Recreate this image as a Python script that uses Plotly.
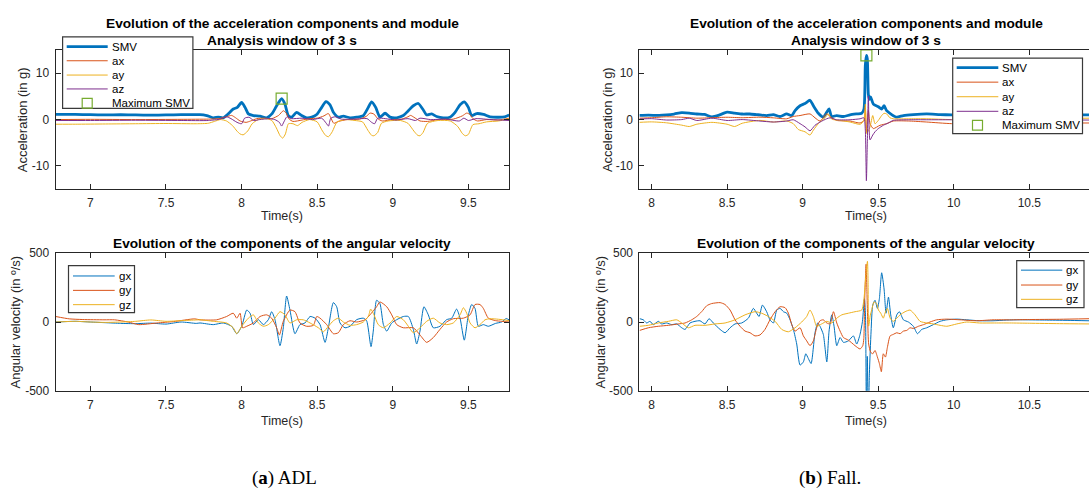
import plotly.graph_objects as go

# ---------------- DATA ----------------
# (a) ADL - acceleration (g)
adl_smv_t = [6.77, 6.9, 7.0, 7.1, 7.2, 7.3, 7.4, 7.5, 7.6, 7.7, 7.725, 7.77, 7.813, 7.846, 7.879, 7.912, 7.945, 7.972, 8.0, 8.023, 8.045, 8.078, 8.122, 8.166, 8.2, 8.232, 8.265, 8.287, 8.309, 8.331, 8.364, 8.397, 8.43, 8.464, 8.497, 8.53, 8.558, 8.585, 8.607, 8.64, 8.673, 8.717, 8.761, 8.805, 8.838, 8.86, 8.887, 8.915, 8.949, 8.982, 9.026, 9.07, 9.103, 9.136, 9.169, 9.198, 9.224, 9.257, 9.29, 9.334, 9.378, 9.412, 9.445, 9.473, 9.5, 9.522, 9.555, 9.6, 9.643, 9.7, 9.74, 9.77]
adl_smv = [1.1, 1.1, 1.05, 1.0, 1.05, 1.0, 0.95, 1.0, 1.05, 1.05, 1.08, 0.87, 0.38, 0.52, 0.38, 1.22, 2.28, 2.63, 3.68, 2.63, 1.22, 0.87, 0.73, 0.38, 1.22, 2.98, 4.52, 3.33, 0.87, 0.52, 1.57, 0.87, 0.38, 0.52, 1.08, 2.63, 3.89, 3.19, 1.57, 0.52, 0.73, 0.38, 0.52, 0.87, 2.63, 3.82, 2.63, 0.52, 1.36, 0.52, 0.38, 0.87, 1.92, 2.98, 3.47, 2.28, 1.01, 1.22, 0.66, 0.38, 0.52, 1.57, 3.19, 3.82, 2.63, 0.87, 1.3, 1.1, 0.6, 0.5, 0.6, 1.0]

adl_ax_t = [6.77, 7.0, 7.3, 7.6, 7.78, 7.85, 7.9, 7.934, 7.96, 7.99, 8.03, 8.06, 8.1, 8.15, 8.2, 8.245, 8.276, 8.295, 8.315, 8.34, 8.4, 8.45, 8.5, 8.545, 8.574, 8.59, 8.61, 8.64, 8.7, 8.78, 8.825, 8.85, 8.875, 8.9, 8.93, 9.0, 9.06, 9.1, 9.118, 9.14, 9.18, 9.23, 9.3, 9.4, 9.46, 9.489, 9.51, 9.53, 9.56, 9.62, 9.7, 9.77]
adl_ax = [0.0, 0.05, 0.0, 0.05, 0.1, 0.2, 0.6, 0.9, 0.4, -0.3, -0.6, -0.3, 0.2, 0.3, 0.2, 0.9, 1.9, 1.4, 0.1, -0.4, -0.1, 0.2, 0.3, 0.8, 1.3, 0.4, -0.8, -0.4, 0.0, 0.1, 0.7, 1.4, 1.2, 0.2, -0.3, 0.0, 0.1, 0.6, 0.9, 0.5, -0.3, -0.4, 0.0, 0.1, 0.8, 1.4, 1.1, 0.2, -0.3, 0.0, -0.1, 0.3]

adl_ay_t = [6.77, 6.9, 7.1, 7.3, 7.5, 7.7, 7.78, 7.82, 7.86, 7.9, 7.94, 7.97, 7.99, 8.01, 8.04, 8.07, 8.11, 8.16, 8.2, 8.23, 8.255, 8.272, 8.29, 8.31, 8.34, 8.37, 8.4, 8.45, 8.5, 8.53, 8.555, 8.575, 8.6, 8.63, 8.68, 8.75, 8.8, 8.835, 8.86, 8.875, 8.9, 8.925, 8.97, 9.05, 9.1, 9.14, 9.165, 9.18, 9.2, 9.23, 9.3, 9.38, 9.43, 9.46, 9.48, 9.5, 9.53, 9.57, 9.62, 9.7, 9.77]
adl_ay = [-1.0, -1.0, -0.95, -0.9, -0.85, -0.9, -0.8, -0.4, 0.0, -0.3, -1.3, -2.5, -3.1, -3.3, -2.5, -0.9, 0.0, 0.2, -0.2, -1.8, -3.5, -4.0, -3.1, -0.9, -0.9, -1.3, -0.6, 0.0, -0.5, -2.2, -3.4, -3.7, -2.6, -0.6, 0.0, -0.2, -0.5, -2.3, -3.4, -3.5, -2.8, -0.8, -0.3, -0.2, -0.8, -2.5, -3.4, -3.5, -2.8, -0.8, -0.2, -0.3, -1.5, -3.0, -3.5, -3.2, -1.1, -0.9, -0.5, -0.3, 0.2]

adl_az_t = [6.77, 7.0, 7.3, 7.6, 7.78, 7.86, 7.9, 7.93, 7.97, 8.0, 8.02, 8.05, 8.08, 8.12, 8.18, 8.22, 8.25, 8.265, 8.28, 8.3, 8.33, 8.4, 8.47, 8.53, 8.56, 8.575, 8.59, 8.62, 8.66, 8.75, 8.83, 8.86, 8.88, 8.9, 8.95, 9.02, 9.1, 9.15, 9.18, 9.25, 9.35, 9.44, 9.47, 9.5, 9.55, 9.65, 9.77]
adl_az = [-0.2, -0.2, -0.15, -0.2, -0.2, 0.1, 0.6, 0.2, -0.6, -0.9, 0.3, 0.5, -0.2, 0.0, 0.2, 0.0, -0.6, -1.4, -0.5, 0.6, 0.2, 0.3, 0.0, 0.3, -0.8, -1.4, 0.3, 0.6, 0.1, 0.1, 0.2, -0.6, -0.9, 0.3, 0.2, -0.1, 0.2, -0.2, 0.3, 0.0, 0.1, -0.3, 0.3, -0.2, 0.2, 0.0, -0.2]

adl_max_t = [8.265]
adl_max = [4.52]

# (b) Fall - acceleration (g)
fall_smv_t = [7.92, 7.98, 8.05, 8.1, 8.15, 8.2, 8.25, 8.3, 8.35, 8.4, 8.45, 8.5, 8.55, 8.6, 8.65, 8.7, 8.718, 8.762, 8.806, 8.85, 8.894, 8.928, 8.95, 8.983, 9.016, 9.049, 9.071, 9.104, 9.137, 9.159, 9.175, 9.192, 9.225, 9.27, 9.314, 9.358, 9.391, 9.406, 9.415, 9.422, 9.428, 9.435, 9.442, 9.45, 9.468, 9.501, 9.523, 9.539, 9.556, 9.589, 9.622, 9.667, 9.733, 9.821, 9.909, 9.986, 10.1, 10.3, 10.5, 10.7, 10.895]
fall_smv = [0.9, 0.95, 0.9, 1.0, 1.2, 1.5, 1.4, 1.2, 1.1, 0.6, 1.0, 1.6, 1.4, 1.2, 1.2, 1.05, 1.01, 0.87, 1.08, 0.66, 1.22, 0.87, 1.92, 2.98, 3.47, 4.17, 2.98, 1.36, 0.52, 1.57, 2.28, 0.66, 0.87, 0.66, 1.01, 1.22, 1.36, 2.28, 11.75, 13.85, 13.15, 5.43, 4.38, 4.87, 3.33, 2.77, 2.28, 2.98, 1.92, 1.08, 0.52, 0.87, 1.08, 1.22, 1.08, 1.01, 1.0, 1.0, 1.0, 1.0, 1.0]

fall_ax_t = [7.92, 8.0, 8.1, 8.2, 8.3, 8.4, 8.5, 8.6, 8.718, 8.806, 8.894, 8.938, 8.983, 9.049, 9.082, 9.115, 9.159, 9.182, 9.225, 9.314, 9.38, 9.406, 9.415, 9.422, 9.435, 9.446, 9.468, 9.512, 9.556, 9.6, 9.71, 9.821, 9.986, 10.2, 10.5, 10.895]
fall_ax = [0.3, 0.4, 0.6, 0.5, 0.3, 0.4, 0.5, 0.4, 0.52, 0.38, 0.17, 0.66, 0.87, 1.22, 0.38, -0.32, 1.22, 0.66, -0.18, -0.32, -0.74, -0.2, 2.63, -2.64, 1.92, -0.88, -1.94, -1.23, -0.88, -0.32, -0.32, -0.53, -0.88, -0.8, -0.75, -0.74]

fall_ay_t = [7.92, 8.0, 8.1, 8.2, 8.25, 8.3, 8.4, 8.5, 8.55, 8.6, 8.718, 8.806, 8.894, 8.938, 8.972, 9.016, 9.049, 9.071, 9.104, 9.148, 9.17, 9.192, 9.248, 9.314, 9.38, 9.406, 9.415, 9.424, 9.446, 9.464, 9.479, 9.501, 9.523, 9.539, 9.556, 9.578, 9.6, 9.71, 9.821, 9.986, 10.3, 10.6, 10.895]
fall_ay = [-0.6, -0.5, -0.7, -1.2, -1.5, -1.0, -0.6, -1.0, -1.5, -0.8, -0.18, -0.53, -0.3, -0.88, -2.15, -2.64, -3.34, -2.29, -0.88, 0.38, 1.22, 0.1, -0.18, -0.53, -1.02, -0.2, 3.33, -2.99, -1.58, 0.87, -0.9, -0.18, 0.87, 1.36, 1.22, 0.38, 0.17, 0.17, 0.17, 0.0, 0.1, 0.2, 0.3]

fall_az_t = [7.92, 8.0, 8.1, 8.2, 8.25, 8.3, 8.4, 8.5, 8.6, 8.718, 8.806, 8.894, 8.938, 8.983, 9.016, 9.049, 9.082, 9.115, 9.159, 9.182, 9.225, 9.314, 9.38, 9.406, 9.415, 9.422, 9.428, 9.435, 9.446, 9.464, 9.479, 9.501, 9.534, 9.567, 9.6, 9.71, 9.821, 9.986, 10.4, 10.895]
fall_az = [0.1, 0.2, -0.1, 0.0, 0.3, -0.2, 0.3, -0.2, 0.0, -0.32, -0.53, -0.32, -0.04, -0.88, -1.58, -2.43, -1.23, -0.53, 0.17, 0.38, -0.04, -0.04, 0.17, 0.38, -2.29, -13.2, -5.1, 5.08, -4.4, -3.34, -2.64, -1.94, -1.23, -0.74, -0.18, -0.04, -0.04, -0.04, -0.05, -0.1]

fall_max_t = [9.422]
fall_max = [13.85]

# (a) ADL - angular velocity (deg/s)
adl_gx_t = [6.77, 6.9, 7.0, 7.1, 7.2, 7.3, 7.4, 7.5, 7.6, 7.7, 7.725, 7.813, 7.879, 7.934, 7.968, 8.001, 8.034, 8.056, 8.078, 8.111, 8.144, 8.177, 8.199, 8.221, 8.254, 8.276, 8.298, 8.32, 8.353, 8.386, 8.419, 8.453, 8.486, 8.519, 8.552, 8.574, 8.607, 8.629, 8.651, 8.684, 8.717, 8.761, 8.805, 8.827, 8.856, 8.871, 8.893, 8.915, 8.938, 8.96, 8.993, 9.026, 9.07, 9.103, 9.136, 9.158, 9.18, 9.206, 9.235, 9.268, 9.312, 9.356, 9.39, 9.422, 9.445, 9.473, 9.5, 9.522, 9.544, 9.566, 9.599, 9.632, 9.68, 9.72, 9.75, 9.77]
adl_gx = [0, 5, 0, -5, -10, -12, -8, -15, 0, -10, -7, -19, -7, -31, -85, -31, 87, 64, -19, 17, -19, 17, 75, 17, -172, -42, 189, 87, -85, -19, -7, 40, 28, -19, -148, -42, 141, 111, -7, -42, -31, 17, 28, 9, -179, -66, 158, 134, -19, -66, -7, 17, 40, 40, -54, -160, -66, 111, 52, -42, -31, 17, 28, 94, 28, -132, 52, 127, 99, -31, -19, -31, -10, 0, 25, 15]

adl_gy_t = [6.77, 6.86, 6.95, 7.09, 7.16, 7.25, 7.32, 7.44, 7.55, 7.69, 7.725, 7.835, 7.901, 7.945, 7.968, 7.99, 8.007, 8.034, 8.078, 8.122, 8.166, 8.199, 8.232, 8.25, 8.276, 8.32, 8.353, 8.386, 8.43, 8.475, 8.497, 8.519, 8.563, 8.607, 8.64, 8.673, 8.717, 8.761, 8.816, 8.849, 8.893, 8.915, 8.96, 8.993, 9.026, 9.07, 9.136, 9.18, 9.224, 9.268, 9.312, 9.356, 9.4, 9.467, 9.511, 9.544, 9.577, 9.599, 9.632, 9.68, 9.72, 9.77]
adl_gy = [40, 23, 18, 16, 16, 0, -19, -7, 3, 23, 16, 16, 40, 64, 28, 64, -42, -31, -7, 40, 52, 28, -42, -94, 5, 87, 75, -7, -31, -24, 40, 28, -19, -85, -78, -19, 9, 0, 16, 52, 111, 146, 111, 52, -19, -42, -42, -94, -148, -113, -54, 0, 24, 28, 52, 127, 127, 99, 28, 10, 5, 0]

adl_gz_t = [6.77, 6.9, 7.0, 7.1, 7.2, 7.3, 7.4, 7.5, 7.6, 7.7, 7.725, 7.813, 7.901, 7.945, 7.968, 8.001, 8.045, 8.078, 8.111, 8.144, 8.177, 8.221, 8.254, 8.287, 8.32, 8.364, 8.408, 8.453, 8.508, 8.541, 8.574, 8.607, 8.64, 8.673, 8.717, 8.761, 8.805, 8.838, 8.854, 8.876, 8.904, 8.938, 8.982, 9.026, 9.07, 9.103, 9.136, 9.18, 9.224, 9.268, 9.312, 9.356, 9.4, 9.445, 9.467, 9.489, 9.511, 9.544, 9.577, 9.61, 9.643, 9.7, 9.77]
adl_gz = [0, 5, 0, -3, 0, 5, 15, 5, 10, 15, 16, 5, -7, -42, -85, -31, 28, 52, -7, -31, -19, 28, 75, 52, -7, 16, 16, -7, -42, -71, -31, 9, 28, 0, -24, -19, 0, 40, 94, 52, -19, -42, -7, 40, 16, -31, -78, -42, 5, 28, -7, -19, -7, 52, 104, 64, -7, -42, -19, 16, 24, 20, 10]

# (b) Fall - angular velocity (deg/s)
fall_gx_t = [7.922, 7.946, 7.968, 7.99, 8.012, 8.045, 8.067, 8.1, 8.134, 8.167, 8.2, 8.222, 8.255, 8.288, 8.321, 8.354, 8.381, 8.409, 8.454, 8.487, 8.52, 8.553, 8.597, 8.641, 8.674, 8.696, 8.712, 8.734, 8.762, 8.784, 8.807, 8.829, 8.851, 8.873, 8.895, 8.917, 8.939, 8.961, 8.983, 9.005, 9.021, 9.038, 9.056, 9.082, 9.1, 9.115, 9.137, 9.16, 9.175, 9.193, 9.208, 9.226, 9.248, 9.27, 9.303, 9.336, 9.358, 9.38, 9.396, 9.409, 9.416, 9.422, 9.428, 9.435, 9.442, 9.453, 9.464, 9.479, 9.495, 9.508, 9.523, 9.539, 9.552, 9.568, 9.583, 9.6, 9.623, 9.64, 9.667, 9.7, 9.733, 9.76, 9.788, 9.821, 9.865, 9.91, 9.954, 10.02, 10.086, 10.17, 10.26, 10.35, 10.44, 10.6, 10.75, 10.895]
fall_gx = [24, 16, -7, 5, -19, 5, -14, -7, -19, -14, -42, -54, -7, 5, 9, -14, 24, -7, -54, -78, -42, -14, -7, 28, 99, 64, 40, 123, 75, 16, -7, 87, 99, 75, 64, 16, -54, -160, -313, -290, -231, -266, -302, -78, -7, -31, -90, -290, -66, 52, -31, -172, -113, -148, -137, -101, -160, -90, 5, 170, 52, -720, -250, -700, -372, -66, 123, 158, 99, 170, 358, 240, 64, 181, 52, -42, 52, 75, 16, 0, -31, -85, -54, -42, -19, 5, 16, 21, 16, 9, 9, 14, 16, 14, 12, 9]

fall_gy_t = [7.922, 7.979, 8.045, 8.112, 8.178, 8.222, 8.266, 8.299, 8.332, 8.365, 8.398, 8.454, 8.487, 8.52, 8.553, 8.586, 8.619, 8.652, 8.685, 8.718, 8.751, 8.784, 8.818, 8.851, 8.884, 8.906, 8.928, 8.95, 8.983, 9.005, 9.027, 9.049, 9.071, 9.093, 9.115, 9.137, 9.16, 9.182, 9.204, 9.226, 9.248, 9.27, 9.303, 9.347, 9.38, 9.398, 9.405, 9.411, 9.42, 9.426, 9.431, 9.437, 9.45, 9.464, 9.479, 9.495, 9.508, 9.521, 9.534, 9.548, 9.561, 9.579, 9.6, 9.623, 9.645, 9.667, 9.689, 9.711, 9.733, 9.766, 9.8, 9.843, 9.887, 9.954, 10.042, 10.15, 10.26, 10.37, 10.5, 10.7, 10.895]
fall_gy = [-61, -42, -31, -24, -14, -7, 16, 40, 75, 118, 134, 141, 127, 87, 16, -31, -66, -78, -101, -94, -54, 16, 75, 111, 104, 64, -19, -66, -42, -101, -137, -172, -137, -42, 9, 16, -7, -14, 75, -7, -66, -113, -132, -172, -196, -172, -120, 170, 420, 200, 0, -160, -219, -231, -207, -255, -302, -361, -231, -255, -184, -101, -90, -78, -85, -66, -61, -42, -47, -31, -19, 0, 16, 21, 16, 9, 16, 16, 18, 20, 24]

fall_gz_t = [7.922, 7.979, 8.045, 8.112, 8.167, 8.2, 8.244, 8.288, 8.354, 8.42, 8.487, 8.553, 8.619, 8.685, 8.729, 8.773, 8.818, 8.862, 8.906, 8.95, 8.994, 9.027, 9.049, 9.071, 9.093, 9.126, 9.16, 9.193, 9.226, 9.259, 9.303, 9.347, 9.391, 9.406, 9.42, 9.429, 9.433, 9.437, 9.448, 9.457, 9.473, 9.49, 9.502, 9.517, 9.534, 9.545, 9.561, 9.579, 9.6, 9.623, 9.645, 9.678, 9.711, 9.744, 9.777, 9.821, 9.865, 9.91, 9.954, 10.02, 10.086, 10.17, 10.26, 10.37, 10.5, 10.7, 10.895]
fall_gz = [-31, -24, -7, 5, 16, -7, -42, -24, -24, -14, -7, 16, 52, 75, 64, 40, 5, -54, -71, -42, 0, 40, 87, 40, -31, -14, 5, -7, 28, 52, 64, 75, 87, 170, 360, 441, 300, -30, 50, 87, 146, 134, 87, 64, 28, 64, 99, 28, 5, 28, 52, 75, 87, 52, 5, -7, -14, -24, -31, -14, 0, -7, -7, -7, -9, -12, -14]

# tick labels
adl_xticks = [7, 7.5, 8, 8.5, 9, 9.5]
fall_xticks = [8, 8.5, 9, 9.5, 10, 10.5]
acc_yticks = [-10, 0, 10]
acc_yticklabels = ["-10", "0", "10"]
gyr_yticks = [-500, 0, 500]
gyr_yticklabels = ["-500", "0", "500"]

# ---------------- STYLE ----------------
W, H = 1089, 502
C_BLUE, C_ORANGE, C_YELLOW, C_PURPLE, C_GREEN = "#0072BD", "#D95319", "#EDB120", "#7E2F8E", "#77AC30"
AXC = "#262626"
SANS = "Liberation Sans, Arial, Helvetica, sans-serif"


def X(px):
    return px / W


def Y(py):
    return 1 - py / H


fig = go.Figure()


def line_trace(t, v, color, width, ax, name):
    fig.add_trace(go.Scatter(x=t, y=v, mode="lines", name=name,
                             line=dict(color=color, width=width, shape="spline", smoothing=0.6),
                             xaxis="x" + ax, yaxis="y" + ax, showlegend=False, hoverinfo="skip"))


# top-left
line_trace(adl_smv_t, adl_smv, C_BLUE, 2.8, "", "SMV")
line_trace(adl_ax_t, adl_ax, C_ORANGE, 1, "", "ax")
line_trace(adl_ay_t, adl_ay, C_YELLOW, 1, "", "ay")
line_trace(adl_az_t, adl_az, C_PURPLE, 1, "", "az")
fig.add_trace(go.Scatter(x=adl_max_t, y=adl_max, mode="markers", name="Maximum SMV",
                         marker=dict(symbol="square-open", size=11, color=C_GREEN, line=dict(width=1.2)),
                         xaxis="x", yaxis="y", showlegend=False, hoverinfo="skip"))
# top-right
line_trace(fall_smv_t, fall_smv, C_BLUE, 2.8, "2", "SMV")
line_trace(fall_ax_t, fall_ax, C_ORANGE, 1, "2", "ax")
line_trace(fall_ay_t, fall_ay, C_YELLOW, 1, "2", "ay")
line_trace(fall_az_t, fall_az, C_PURPLE, 1, "2", "az")
fig.add_trace(go.Scatter(x=fall_max_t, y=fall_max, mode="markers", name="Maximum SMV",
                         marker=dict(symbol="square-open", size=11, color=C_GREEN, line=dict(width=1.2)),
                         xaxis="x2", yaxis="y2", showlegend=False, hoverinfo="skip"))
# bottom-left
line_trace(adl_gx_t, adl_gx, C_BLUE, 1, "3", "gx")
line_trace(adl_gy_t, adl_gy, C_ORANGE, 1, "3", "gy")
line_trace(adl_gz_t, adl_gz, C_YELLOW, 1, "3", "gz")
# bottom-right
line_trace(fall_gx_t, fall_gx, C_BLUE, 1, "4", "gx")
line_trace(fall_gy_t, fall_gy, C_ORANGE, 1, "4", "gy")
line_trace(fall_gz_t, fall_gz, C_YELLOW, 1, "4", "gz")

LX = [X(55.6), X(509.2)]
RX = [X(639.4), 1.0]
TY = [Y(187.3), Y(44.3)]
BY = [Y(394.8), Y(253.3)]


def xax(domain, rng, ticks, anchor):
    return dict(domain=domain, range=rng, tickvals=ticks, ticktext=[("%g" % v) for v in ticks],
                showline=True, linecolor=AXC, linewidth=1, mirror="allticks",
                ticks="inside", ticklen=5, tickwidth=1, tickcolor=AXC,
                showgrid=False, zeroline=False, anchor=anchor, fixedrange=True,
                tickfont=dict(family=SANS, size=12, color=AXC), ticklabelstandoff=3)


def yax(domain, rng, ticks, labels, anchor, mirror):
    return dict(domain=domain, range=rng, tickvals=ticks, ticktext=labels,
                showline=True, linecolor=AXC, linewidth=1, mirror=mirror,
                ticks="inside", ticklen=5, tickwidth=1, tickcolor=AXC,
                showgrid=False, zeroline=False, anchor=anchor, fixedrange=True,
                tickfont=dict(family=SANS, size=12, color=AXC), ticklabelstandoff=3)


fig.update_layout(
    width=W, height=H, autosize=False,
    margin=dict(l=0, r=0, t=0, b=0),
    paper_bgcolor="white", plot_bgcolor="white",
    showlegend=False, hovermode=False,
    xaxis=xax(LX, [6.77, 9.77], adl_xticks, "y"),
    yaxis=yax(TY, [-15, 15], acc_yticks, acc_yticklabels, "x", "allticks"),
    xaxis2=xax(RX, [7.92, 10.895], fall_xticks, "y2"),
    yaxis2=yax(TY, [-15, 15], acc_yticks, acc_yticklabels, "x2", False),
    xaxis3=xax(LX, [6.77, 9.77], adl_xticks, "y3"),
    yaxis3=yax(BY, [-500, 500], gyr_yticks, gyr_yticklabels, "x3", "allticks"),
    xaxis4=xax(RX, [7.92, 10.895], fall_xticks, "y4"),
    yaxis4=yax(BY, [-500, 500], gyr_yticks, gyr_yticklabels, "x4", False),
)

ann = []
shapes = []


def text(px, py, s, size, bold=False, angle=0, anchor="center", color=AXC, family=SANS):
    ann.append(dict(x=X(px), y=Y(py), xref="paper", yref="paper", text=("<b>%s</b>" % s) if bold else s,
                    showarrow=False, xanchor=anchor, yanchor="middle", textangle=angle,
                    font=dict(family=family, size=size, color=color)))


# titles
for cx in (282.4, 866.0):
    text(cx, 17, "Evolution of the acceleration components and module", 13.7, bold=True, color="#000")
    text(cx, 34, "Analysis window of 3 s", 13.7, bold=True, color="#000")
    text(cx, 243.5, "Evolution of the components of the angular velocity", 13.7, bold=True, color="#000")

# axis labels
text(282.4, 215, "Time(s)", 12.5, color=AXC)
text(866.0, 215, "Time(s)", 12.5, color=AXC)
text(282.4, 426, "Time(s)", 12.5, color=AXC)
text(866.0, 426, "Time(s)", 12.5, color=AXC)
text(22.6, 115.8, "Acceleration (in g)", 13, angle=-90)
text(607.5, 115.8, "Acceleration (in g)", 13, angle=-90)
text(15.5, 324, "Angular velocity (in º/s)", 13, angle=-90)
text(600.5, 324, "Angular velocity (in º/s)", 13, angle=-90)

# captions
ann.append(dict(x=X(284), y=Y(485), xref="paper", yref="paper", text="(<b>a</b>) ADL", showarrow=False,
                xanchor="center", yanchor="middle", font=dict(family="Liberation Serif, serif", size=19, color="#000")))
ann.append(dict(x=X(830), y=Y(485), xref="paper", yref="paper", text="(<b>b</b>) Fall.", showarrow=False,
                xanchor="center", yanchor="middle", font=dict(family="Liberation Serif, serif", size=19, color="#000")))


# manual legends
def legend(box, items, line_x0, line_x1, text_x):
    x0, y0, x1, y1 = box
    shapes.append(dict(type="rect", xref="paper", yref="paper", x0=X(x0), x1=X(x1), y0=Y(y1), y1=Y(y0),
                       fillcolor="white", line=dict(color="#3a3a3a", width=1.2), layer="above"))
    for label, color, width, yy, kind in items:
        if kind == "line":
            shapes.append(dict(type="line", xref="paper", yref="paper", x0=X(line_x0), x1=X(line_x1),
                               y0=Y(yy), y1=Y(yy), line=dict(color=color, width=width), layer="above"))
        else:
            cx = (line_x0 + line_x1) / 2
            shapes.append(dict(type="rect", xref="paper", yref="paper", x0=X(cx - 5), x1=X(cx + 5),
                               y0=Y(yy + 5), y1=Y(yy - 5), line=dict(color=color, width=1.2),
                               fillcolor="rgba(0,0,0,0)", layer="above"))
        text(text_x, yy, label, 11.5, anchor="left", color="#000")


legend((62.6, 30.7, 192.9, 104.3),
       [("SMV", C_BLUE, 2.8, 40.7, "line"), ("ax", C_ORANGE, 1, 55.3, "line"), ("ay", C_YELLOW, 1, 70, "line"),
        ("az", C_PURPLE, 1, 84.3, "line"), ("Maximum SMV", C_GREEN, 1, 99, "square")],
       66.7, 107.7, 109.5)
legend((952.7, 52.5, 1082.5, 130.3),
       [("SMV", C_BLUE, 2.8, 62.3, "line"), ("ax", C_ORANGE, 1, 77.3, "line"), ("ay", C_YELLOW, 1, 92.3, "line"),
        ("az", C_PURPLE, 1, 107.3, "line"), ("Maximum SMV", C_GREEN, 1, 121.7, "square")],
       956.7, 998.3, 1000.0)
legend((68.5, 266, 134.5, 314.3),
       [("gx", C_BLUE, 1, 276.7, "line"), ("gy", C_ORANGE, 1, 291.5, "line"), ("gz", C_YELLOW, 1, 306.2, "line")],
       73, 114.7, 116.5)
legend((1016.7, 261, 1084, 309.3),
       [("gx", C_BLUE, 1, 270.7, "line"), ("gy", C_ORANGE, 1, 286, "line"), ("gz", C_YELLOW, 1, 300.7, "line")],
       1021, 1062.3, 1064)

fig.update_layout(annotations=ann, shapes=shapes)
fig.write_html("out.html", config={"displayModeBar": False, "staticPlot": True},
               post_script="document.body.style.margin='0px';document.body.style.padding='0px';"
                           "document.documentElement.style.overflow='hidden';")
